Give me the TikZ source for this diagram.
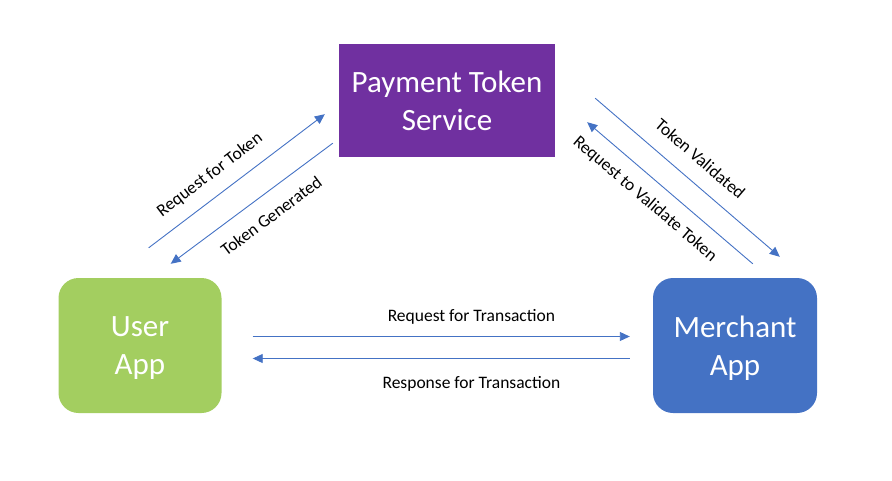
\documentclass[tikz,border=0pt]{standalone}
\usepackage{fontspec}
\setmainfont{Carlito}
\usetikzlibrary{arrows.meta,calc}

\definecolor{tokpurple}{HTML}{7030A0}
\definecolor{tokgreen}{HTML}{A3CE60}
\definecolor{tokblue}{HTML}{4472C4}

\begin{document}
\begin{tikzpicture}[x=1pt,y=-1pt]

      \useasboundingbox (0,0) rectangle (892,480);

      \begin{scope}[every node/.style={text=white,align=center,inner sep=0pt,text depth=0pt,
          font=\fontsize{31}{37.5}\selectfont}]
        \node[fill=tokpurple,minimum width=216pt,minimum height=113pt] (service) at (447,100.5) {Payment Token\\Service};
        \node[fill=tokgreen,rounded corners=20pt,minimum width=163pt,minimum height=135pt] (user) at (140,345.5) {User\\App};
        \node[fill=tokblue,rounded corners=20pt,minimum width=164pt,minimum height=135pt] (merchant) at (735,345.5) {Merchant\\App};
      \end{scope}

      \begin{scope}[every node/.style={inner sep=0pt,font=\fontsize{17.5}{21}\selectfont}]

        \begin{scope}[every edge/.style={draw=tokblue,line width=0.9pt,-{Triangle[length=10pt,width=9pt]}}]
          % user app <-> token service
          \path ($(user.north east)+(-73,-30)$) edge node[sloped,above=13pt,pos=0.42] {Request for Token} ($(service.south west)+(-14,-43)$);
          \path ($(service.south west)+(-6,-14)$) edge node[sloped,below=15pt,pos=0.46] {Token Generated} ($(user.north east)+(-51,-14)$);

          % token service <-> merchant app
          \path ($(service.south east)+(40,-59)$) edge node[sloped,above=16pt,pos=0.49] {Token Validated} ($(merchant.north west)+(127,-21)$);
          \path ($(merchant.north west)+(100,-14)$) edge node[sloped,below=13pt,pos=0.57] {Request to Validate Token} ($(service.south east)+(32,-35)$);

          % user app <-> merchant app
          \path ($(user.east)+(31,-9)$) edge node[above=12pt,pos=0.58] {Request for Transaction} ($(merchant.west)+(-23,-9)$);
          \path ($(merchant.west)+(-23,13)$) edge node[below=17pt,pos=0.42] {Response for Transaction} ($(user.east)+(31,13)$);
        \end{scope}

      \end{scope}

    \end{tikzpicture}
\end{document}
